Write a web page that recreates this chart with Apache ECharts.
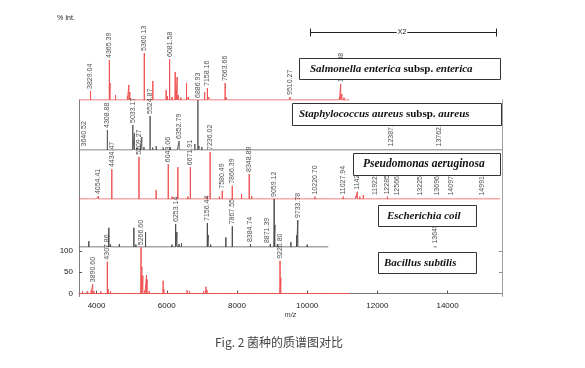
<!DOCTYPE html>
<html><head><meta charset="utf-8">
<script src="https://cdn.jsdelivr.net/npm/echarts@6/dist/echarts.min.js"></script>
<style>html,body{margin:0;padding:0;background:#fff}#c{width:585px;height:368px}</style>
</head><body><div id="c"></div>
<script>
// ---- data: m/z of peaks and relative intensities (panel scale 0-100) ----
const xTicks = [4000, 6000, 8000, 10000, 12000, 14000];
const bacYTicks = [0, 50, 100];

const salMz  = [3530,3560,3600,3650,3700,3760,3829.04,3900,3980,4100,4200,4300,4365.39,4385,4450,4540,4580,4700,4800,4880,4920,4950,5050,5150,5250,5360.13,5420,5604,5700,5800,5900,5983,6020,6081.58,6150,6240,6270,6296,6330,6400,6480,6564,6620,6700,6780,6900,7000,7080,7158.16,7200,7300,7400,7500,7600,7663.66,7700,7800,7900,8100,8350,8400,8600,8800,8950,9200,9400,9510.27,9700,10000,10850,10920,10954.88,10990,11050,11120];
const salInt = [4,3,4,2,3,2,18,2,2,3,2,3,80,34,3,10,4,2,3,8,30,16,3,2,3,94,4,38,3,2,3,20,8,82,6,56,20,46,10,5,3,34,6,3,2,2,3,16,24,6,2,3,2,3,34,5,2,2,2,4,3,1,2,1,1,1,6,1,1,3,6,32,12,5,3];
const salLabels = [3829.04,4365.39,5360.13,6081.58,7158.16,7663.66,9510.27,10954.88];

const staMz  = [3560,3640.52,3700,3800,3900,4000,4100,4200,4308.88,4350,4450,4600,4750,4900,5033.17,5080,5150,5250,5290,5350,5450,5524.87,5600,5700,5800,5900,6000,6100,6200,6300,6352.79,6450,6550,6650,6800,6886.93,6920,7000,7050,7150,7250,12387.15,13762.84];
const staInt = [2,3,2,3,2,2,3,2,40,4,2,3,2,3,50,34,5,8,26,6,3,68,5,8,3,5,2,6,3,4,18,3,2,3,12,100,8,6,4,3,2,3,3];
const staLabels = [3640.52,4308.88,5033.17,5524.87,6352.79,6886.93,12387.15,13762.84];

const pseMz  = [3550,3620,3700,3800,3900,4000,4054.41,4150,4250,4350,4434.47,4500,4600,4700,4800,4900,5000,5100,5209.27,5300,5400,5500,5600,5698,5800,5900,6043.06,6150,6250,6316,6400,6500,6600,6671.91,6750,6850,6950,7050,7150,7236.02,7300,7400,7500,7580.49,7650,7750,7866.39,7950,8050,8131,8250,8348.89,8420,8500,8600,8700,8800,8900,9000,9100,9200,9300,9400,9500,9600,9800,10000,10220.70,10400,10600,10800,11027.94,11200,11380,11428.63,11500,11600,11700,11922.70,12100,12285.62,12400,12566.07,12800,13000,13225.89,13400,13696.40,13900,14097.80,14400,14700,14991.80,15200];
const pseInt = [3,2,4,3,2,3,6,3,2,4,61,4,3,2,4,3,2,3,86,4,3,2,4,18,3,4,71,5,4,65,4,3,5,65,4,3,4,3,5,96,4,3,5,17,3,4,27,3,4,10,3,51,6,3,4,2,3,2,3,2,3,2,3,2,3,2,3,5,2,3,2,5,3,6,15,5,8,3,4,3,5,3,3,2,2,3,2,3,2,3,2,2,3,2];
const pseLabels = [4054.41,4434.47,5209.27,6043.06,6671.91,7236.02,7580.49,7866.39,8348.89,10220.70,11027.94,11428.63,11922.70,12285.62,12566.07,13225.89,13696.40,14097.80,14991.80];

const escMz  = [3550,3650,3780,3850,3950,4050,4150,4250,4350,4400,4500,4650,4800,4950,5063,5120,5250,5396,5450,5600,5750,5900,6050,6150,6253.14,6290,6350,6420,6550,6700,6850,6950,7050,7156.44,7180,7250,7350,7500,7600,7684,7750,7867.55,7950,8100,8250,8384.74,8500,8650,8800,8871.39,8950,9059.12,9080,9150,9300,9400,9536,9600,9700,9733.78,9800,9900,10000,10150,10400,10550];
const escInt = [3,2,12,3,2,3,2,4,40,5,3,6,2,4,40,5,3,31,4,3,2,3,2,5,48,31,6,8,3,2,4,3,4,50,25,5,3,2,4,20,3,43,4,2,3,6,2,3,2,4,6,100,46,5,3,2,10,3,24,56,4,3,5,2,3,1];
const escFarMz = [13645.07];
const escFarInt = [3];
const escLabels = [6253.14,7156.44,7867.55,8384.74,8871.39,9059.12,9733.78,13645.07];

const bacMz  = [3550,3600,3650,3700,3750,3800,3850,3890.60,3930,3980,4050,4120,4180,4250,4307.86,4340,4400,4480,4550,4650,4750,4850,4950,5050,5150,5266.60,5290,5320,5380,5424,5440,5500,5600,5700,5800,5897,5920,6000,6100,6200,6300,6400,6500,6581,6650,6750,6850,6950,7050,7114,7150,7250,7400,7550,7700,7900,8200,8500,8800,9100,9226.80,9250,9300,9500,10000,10500,11100];
const bacInt = [3,5,2,4,6,3,8,22,6,4,3,5,3,4,75,10,5,3,4,3,2,4,3,2,4,109,63,42,8,43,33,6,3,4,3,30,10,3,2,4,3,4,3,8,5,3,2,4,6,16,8,3,2,2,1,1,1,1,1,2,77,37,3,1,1,1,2];
const bacLabels = [3890.60,4307.86,5266.60,9226.80];

// ---- helpers ----
function sticks(mz, it, start, end) {
  const d = [[start, 0]];
  for (let i = 0; i < mz.length; i++) { d.push([mz[i], 0], [mz[i], it[i]], [mz[i], 0]); }
  d.push([end, 0]);
  return d;
}
function labelPts(mz, it, labs) {
  return labs.map(l => { const i = mz.indexOf(l); return { value: [l, i >= 0 ? it[i] : 0], name: l.toFixed(2) }; });
}
const RED = '#f05252', GRAY = '#5c5c5c';
const LBL_FONT = '"Liberation Sans Narrow","Liberation Sans",Arial,sans-serif';

const panels = [
  { top: 50, height: 50, min: 0, max: 100 },
  { top: 100, height: 50, min: 0, max: 100 },
  { top: 150, height: 49, min: 0, max: 100 },
  { top: 199, height: 48, min: 0, max: 100 },
  { top: 247, height: 49.5, min: -7, max: 109.5 }
];
const grids = panels.map(p => ({ left: 79, right: 83, top: p.top, height: p.height }));
const xAxes = panels.map((p, i) => {
  const last = i === 4;
  return {
    type: 'value', gridIndex: i, min: 3500, max: 15550, show: last,
    splitLine: { show: false },
    axisLine: { show: last, lineStyle: { color: '#777', width: 1 } },
    axisTick: { show: last, inside: true, length: 3, customValues: xTicks, lineStyle: { color: '#555' } },
    axisLabel: { show: last, customValues: xTicks, formatter: v => String(v), fontSize: 8, color: '#222', margin: 5, fontFamily: LBL_FONT },
    name: last ? 'm/z' : '', nameLocation: 'middle', nameGap: 15,
    nameTextStyle: { fontSize: 7, fontStyle: 'italic', color: '#333' }
  };
});
const yAxes = [];
panels.forEach((p, i) => {
  const last = i === 4;
  yAxes.push({
    type: 'value', gridIndex: i, min: p.min, max: p.max, show: i > 0, position: 'left',
    splitLine: { show: false },
    axisLine: { show: i > 0, lineStyle: { color: '#808080', width: 1 } },
    axisTick: { show: last, inside: true, length: 3, customValues: bacYTicks, lineStyle: { color: '#555' } },
    axisLabel: { show: last, customValues: bacYTicks, formatter: v => String(v), fontSize: 8, color: '#222', margin: 6, fontFamily: LBL_FONT }
  });
  yAxes.push({
    type: 'value', gridIndex: i, min: p.min, max: p.max, show: i > 0, position: 'right',
    splitLine: { show: false },
    axisLine: { show: i > 0, lineStyle: { color: '#a0a0a0', width: 1 } },
    axisTick: { show: last, inside: true, length: 3, customValues: bacYTicks, lineStyle: { color: '#888' } },
    axisLabel: { show: false }
  });
});

function specSeries(idx, data, color) {
  return {
    type: 'line', xAxisIndex: idx, yAxisIndex: idx * 2, data: data, symbol: 'none',
    lineStyle: { color: color, width: 1 }, animation: false, silent: true, z: 2
  };
}
function labelSeries(idx, pts) {
  return {
    type: 'scatter', xAxisIndex: idx, yAxisIndex: idx * 2, data: pts, symbolSize: 0,
    animation: false, silent: true, z: 3,
    label: {
      show: true, position: 'top', distance: 2, rotate: 90, align: 'left', verticalAlign: 'middle',
      formatter: p => p.name, fontSize: 7, color: '#222', fontFamily: LBL_FONT
    }
  };
}

const series = [
  specSeries(0, sticks(salMz, salInt, 3500, 11200), RED),
  labelSeries(0, labelPts(salMz, salInt, salLabels)),
  specSeries(1, sticks(staMz, staInt, 3500, 15550), GRAY),
  labelSeries(1, labelPts(staMz, staInt, staLabels)),
  specSeries(2, sticks(pseMz, pseInt, 3500, 15500), RED),
  labelSeries(2, labelPts(pseMz, pseInt, pseLabels)),
  specSeries(3, sticks(escMz, escInt, 3500, 10600), '#4a4a4a'),
  specSeries(3, sticks(escFarMz, escFarInt, 13600, 13690), '#4a4a4a'),
  labelSeries(3, labelPts(escMz.concat(escFarMz), escInt.concat(escFarInt), escLabels)),
  specSeries(4, sticks(bacMz, bacInt, 3500, 11200), RED),
  labelSeries(4, labelPts(bacMz, bacInt, bacLabels))
];

// annotation boxes
const SERIF = '"Liberation Serif","DejaVu Serif",serif';
function box(x, y, w, h, parts, tx, fs) {
  return [
    { type: 'rect', z: 100, shape: { x: x, y: y, width: w, height: h },
      style: { fill: '#fff', stroke: '#333', lineWidth: 1 } },
    { type: 'text', z: 101, x: tx, y: y + h / 2,
      style: {
        text: parts.map(p => '{' + (p[1] ? 'i' : 'n') + '|' + p[0] + '}').join(''),
        verticalAlign: 'middle', align: 'left',
        rich: {
          i: { fontFamily: SERIF, fontStyle: 'italic', fontWeight: 'bold', fontSize: fs, fill: '#111' },
          n: { fontFamily: SERIF, fontStyle: 'normal', fontWeight: 'bold', fontSize: fs, fill: '#111' }
        }
      } }
  ];
}

const graphic = [].concat(
  box(299.5, 58.5, 201, 21, [['Salmonella enterica ', 1], ['subsp. ', 0], ['enterica', 1]], 310, 11),
  box(292.5, 103.5, 209, 22, [['Staphylococcus aureus ', 1], ['subsp. ', 0], ['aureus', 1]], 299, 11),
  box(353.5, 153.5, 147, 22, [['Pseudomonas aeruginosa', 1]], 363, 11.5),
  box(378.5, 205.5, 98, 21, [['Escherichia coil', 1]], 387, 11),
  box(378.5, 252.5, 98, 21, [['Bacillus subtilis', 1]], 384, 11),
  [
    { type: 'line', z: 100, shape: { x1: 310.5, y1: 32.5, x2: 496.5, y2: 32.5 }, style: { stroke: '#222', lineWidth: 1 } },
    { type: 'line', z: 100, shape: { x1: 310.5, y1: 28.5, x2: 310.5, y2: 36.5 }, style: { stroke: '#222', lineWidth: 1 } },
    { type: 'line', z: 100, shape: { x1: 496.5, y1: 28.5, x2: 496.5, y2: 36.5 }, style: { stroke: '#222', lineWidth: 1 } },
    { type: 'text', z: 101, x: 402, y: 32.5, style: { text: 'X2', fontSize: 7, fill: '#222', align: 'center', verticalAlign: 'middle', backgroundColor: '#fff', padding: [0, 1], fontFamily: LBL_FONT } },
    { type: 'text', z: 101, x: 57, y: 18, style: { text: '% Int.', fontSize: 7, fill: '#222', align: 'left', verticalAlign: 'middle', fontFamily: LBL_FONT } },
    { type: 'text', z: 101, x: 279, y: 342, style: { text: 'Fig. 2 菌种的质谱图对比', fontSize: 12, fill: '#444', align: 'center', verticalAlign: 'middle', fontFamily: '"Noto Sans CJK SC","Noto Sans",sans-serif' } }
  ]
);

const chart = echarts.init(document.getElementById('c'), null, { renderer: 'canvas' });
chart.setOption({
  backgroundColor: '#fff',
  animation: false,
  grid: grids,
  xAxis: xAxes,
  yAxis: yAxes,
  series: series,
  graphic: graphic
});
</script></body></html>
